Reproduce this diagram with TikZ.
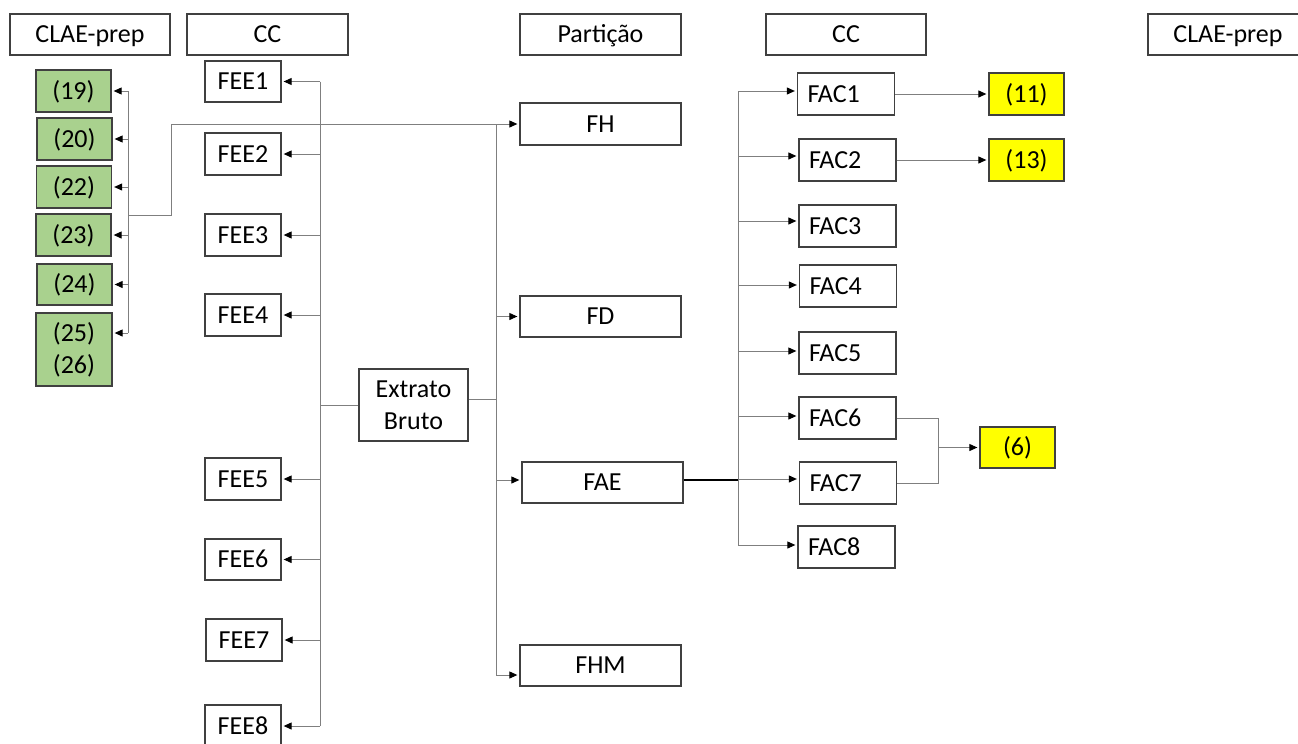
\documentclass[tikz,border=0pt]{standalone}
\usepackage{fontspec}
\setmainfont{Carlito}
\usetikzlibrary{arrows.meta}
\definecolor{boxgreen}{HTML}{A9D18E}
\definecolor{boxyellow}{HTML}{FFFF00}
\definecolor{bordergray}{HTML}{404040}
\definecolor{linegray}{HTML}{7F7F7F}
\begin{document}
\begin{tikzpicture}[x=1pt,y=-1pt,
  font=\fontsize{26}{32}\selectfont,
  box/.style={draw=bordergray, line width=1.3pt, fill=white, inner sep=0pt, align=center},
  capc/.style={text height=16.7pt, text depth=0pt},
  hdr/.style={box, capc, minimum width=160pt, minimum height=41pt},
  fee/.style={box, capc, minimum width=76pt, minimum height=42pt},
  part/.style={box, capc, minimum width=161pt, minimum height=42pt},
  facbox/.style={box, capc, inner xsep=10pt, text width=77pt, align=left, minimum height=42pt},
  grnbase/.style={box, fill=boxgreen, minimum width=75pt, minimum height=42pt},
  grn/.style={grnbase, capc},
  ylw/.style={box, capc, fill=boxyellow, minimum width=75pt, minimum height=42pt},
  conn/.style={draw=linegray, line width=1pt},
  arr/.style={conn, -{Triangle[length=8pt,width=7pt,color=black]}, shorten >=2pt},
]
\useasboundingbox (0,0) rectangle (1298,744);

% headers
\node[hdr] (h1) at (90,34.5) {CLAE-prep};
\node[hdr, minimum width=161pt] (h2) at (267.5,34.5) {CC};
\node[hdr, minimum width=161pt] (h3) at (600.5,34.5) {Partição};
\node[hdr] (h4) at (846,34.5) {CC};
\node[hdr] (h5) at (1228,34.5) {CLAE-prep};

% green results
\node[grn] (g19) at (73.5,91) {(19)};
\node[grn] (g20) at (74.5,139) {(20)};
\node[grn] (g22) at (74,187) {(22)};
\node[grn] (g23) at (73.5,235) {(23)};
\node[grn, minimum height=41pt] (g24) at (74.5,284.5) {(24)};
\node[grnbase, minimum width=76pt, minimum height=73pt] (g25) at (74,349.5) {(25)\\(26)};

% FEE column
\node[fee, minimum height=41pt] (fee1) at (243,81.5) {FEE1};
\node[fee] (fee2) at (243,154) {FEE2};
\node[fee] (fee3) at (243,235) {FEE3};
\node[fee] (fee4) at (243,315) {FEE4};
\node[fee] (fee5) at (243,479) {FEE5};
\node[fee, minimum height=41pt] (fee6) at (243,559.5) {FEE6};
\node[fee] (fee7) at (244,640) {FEE7};
\node[fee] (fee8) at (243,726) {FEE8};

% extrato bruto
\node[box, minimum width=109pt, minimum height=72pt] (ext) at (413.5,405) {Extrato\\Bruto};

% particao
\node[part] (fh) at (600.5,124) {FH};
\node[part, minimum height=41pt] (fd) at (600.5,316.5) {FD};
\node[part, minimum height=41pt] (fae) at (602.5,482.5) {FAE};
\node[part, minimum height=41pt] (fhm) at (600.5,665.5) {FHM};

% FAC column
\node[facbox] (fac1) at (846,94) {FAC1};
\node[facbox] (fac2) at (847.5,160) {FAC2};
\node[facbox] (fac3) at (847.5,226) {FAC3};
\node[facbox] (fac4) at (848,286) {FAC4};
\node[facbox] (fac5) at (847.5,353) {FAC5};
\node[facbox] (fac6) at (847.5,418) {FAC6};
\node[facbox] (fac7) at (848,483) {FAC7};
\node[facbox] (fac8) at (846.5,547) {FAC8};

% yellow results
\node[ylw] (y11) at (1026.5,94) {(11)};
\node[ylw] (y13) at (1026.5,160) {(13)};
\node[ylw, minimum height=41pt] (y6) at (1017.5,447.5) {(6)};

% bus coordinates
\coordinate (busL) at (128,215);
\coordinate (bend) at (171,215);
\coordinate (busF) at (320,405);
\coordinate (busP) at (496,399);
\coordinate (busA) at (738,480);
\coordinate (busY) at (938,447.5);

% left green bus
\draw[conn] (busL |- g19.east) -- (busL |- 0,333);
\foreach \n in {g19,g20,g22,g23,g24}
  \draw[arr] (busL |- \n.east) -- (\n.east);
\draw[arr] (busL |- 0,333) -- (g25.east |- 0,333);
\draw[arr] (busL) -- (bend) -- (bend |- fh.west) -- (fh.west);

% FEE bus
\draw[conn] (busF |- fee1.east) -- (busF |- fee8.east);
\draw[conn] (ext.west) -- (busF);
\foreach \n in {fee1,fee2,fee3,fee4,fee5,fee6,fee7,fee8}
  \draw[arr] (busF |- \n.east) -- (\n.east);

% particao bus
\draw[conn] (ext.east |- busP) -- (busP);
\draw[conn] (busP |- fh.west) -- (busP |- 0,675);
\draw[arr] (busP |- fd.west) -- (fd.west);
\draw[arr] (busP |- 0,480) -- (fae.west |- 0,480);
\draw[arr] (busP |- 0,675) -- (fhm.west |- 0,675);

% FAC bus
\draw[line width=1.2pt, black] (fae.east |- busA) -- (busA);
\draw[conn] (busA |- 0,91) -- (busA |- 0,545);
\draw[arr] (busA |- 0,91) -- (fac1.west |- 0,91);
\draw[arr] (busA |- 0,156) -- (fac2.west |- 0,156);
\draw[arr] (busA |- 0,221) -- (fac3.west |- 0,221);
\draw[arr] (busA |- 0,285) -- (fac4.west |- 0,285);
\draw[arr] (busA |- 0,351) -- (fac5.west |- 0,351);
\draw[arr] (busA |- 0,416) -- (fac6.west |- 0,416);
\draw[arr] (busA |- 0,479) -- (fac7.west |- 0,479);
\draw[arr] (busA |- 0,545) -- (fac8.west |- 0,545);

% FAC -> results
\draw[arr] (fac1.east) -- (y11.west);
\draw[arr] (fac2.east) -- (y13.west);
\draw[conn] (fac6.east) -- (busY |- fac6.east) -- (busY |- fac7.east) -- (fac7.east);
\draw[arr] (busY) -- (y6.west);
\end{tikzpicture}
\end{document}
